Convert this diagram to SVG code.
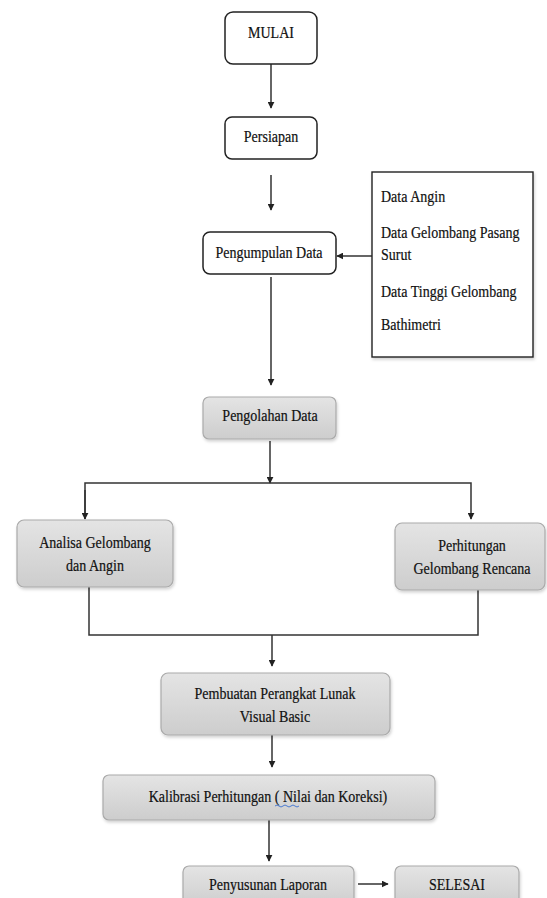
<svg xmlns="http://www.w3.org/2000/svg" width="547" height="898" viewBox="0 0 547 898" font-family="'Liberation Serif', 'Times New Roman', serif">
<style>
text{font-family:"Liberation Serif","Times New Roman",serif;font-size:16.5px;fill:#111;stroke:#111;stroke-width:0.2;text-anchor:middle;transform-box:fill-box;transform-origin:center;transform:scaleX(0.85)}
text.l{text-anchor:start;transform-origin:left center}
.w{fill:#fff;stroke:#222;stroke-width:1.5}
.g{fill:url(#gr);stroke:#aaa;stroke-width:1.2;filter:url(#sh)}
.c{fill:none;stroke:#333;stroke-width:1.5}
</style>
<defs>
<linearGradient id="gr" x1="0" y1="0" x2="0" y2="1">
<stop offset="0" stop-color="#e4e4e4"/>
<stop offset="1" stop-color="#cdcdcd"/>
</linearGradient>
<filter id="sh" x="-10%" y="-20%" width="120%" height="150%">
<feDropShadow dx="1" dy="2" stdDeviation="1.5" flood-color="#000" flood-opacity="0.18"/>
</filter>
<marker id="ah" viewBox="0 0 10 10" refX="9" refY="5" markerWidth="7" markerHeight="7" markerUnits="userSpaceOnUse" orient="auto">
<path d="M0,0 L10,5 L0,10 Z" fill="#222"/>
</marker>
</defs>
<rect width="547" height="898" fill="#fff"/>
<g id="connectors">
<path class="c" d="M271,64 V108" marker-end="url(#ah)"/>
<path class="c" d="M271,175 V210" marker-end="url(#ah)"/>
<path class="c" d="M372,256 H337" marker-end="url(#ah)"/>
<path class="c" d="M271,277 V385" marker-end="url(#ah)"/>
<path class="c" d="M270,441 V483" marker-end="url(#ah)"/>
<path class="c" d="M85,519 V483 H471 V519" marker-end="url(#ah)"/>
<path class="c" d="M85,490 V519" marker-end="url(#ah)"/>
<path class="c" d="M89,587 V635 H478 V590"/>
<path class="c" d="M272,635 V666" marker-end="url(#ah)"/>
<path class="c" d="M272,735 V767" marker-end="url(#ah)"/>
<path class="c" d="M269,820 V861" marker-end="url(#ah)"/>
<path class="c" d="M358,884 H388" marker-end="url(#ah)"/>
</g>
<g id="mulai"><rect class="w" x="225" y="12" width="92" height="52" rx="8"/><text x="271" y="38">MULAI</text></g>
<g id="persiapan"><rect class="w" x="225" y="117" width="92" height="42" rx="7"/><text x="271" y="142">Persiapan</text></g>
<g id="pengumpulan"><rect class="w" x="203" y="232" width="133" height="42" rx="7"/><text x="269" y="258">Pengumpulan Data</text></g>
<g id="data">
<rect x="372" y="172" width="161" height="185" fill="#fff" stroke="#222" stroke-width="1.4" filter="url(#sh)"/>
<text class="l" x="381" y="202">Data Angin</text>
<text class="l" x="381" y="238">Data Gelombang Pasang</text>
<text class="l" x="381" y="260">Surut</text>
<text class="l" x="381" y="297">Data Tinggi Gelombang</text>
<text class="l" x="381" y="330">Bathimetri</text>
</g>
<g id="pengolahan"><rect class="g" x="203" y="397" width="133" height="42" rx="6"/><text x="270" y="421">Pengolahan Data</text></g>
<g id="analisa"><rect class="g" x="17" y="520" width="156" height="67" rx="7"/><text x="95" y="548">Analisa Gelombang</text><text x="95" y="571">dan Angin</text></g>
<g id="perhitungan"><rect class="g" x="395" y="523" width="150" height="67" rx="7"/><text x="472" y="551">Perhitungan</text><text x="472" y="574">Gelombang Rencana</text></g>
<g id="pembuatan"><rect class="g" x="161" y="673" width="229" height="62" rx="7"/><text x="275" y="699">Pembuatan Perangkat Lunak</text><text x="275" y="722">Visual Basic</text></g>
<g id="kalibrasi"><rect class="g" x="103" y="775" width="332" height="45" rx="6"/><text x="268" y="802">Kalibrasi Perhitungan ( Nilai dan Koreksi)</text>
<path d="M275,806 q2,-2 4,0 t4,0 t4,0 t4,0 t4,0 t4,0" fill="none" stroke="#3a6fd0" stroke-width="0.9"/></g>
<g id="penyusunan"><rect class="g" x="183" y="866" width="171" height="42" rx="6"/><text x="268" y="890">Penyusunan Laporan</text></g>
<g id="selesai"><rect class="g" x="395" y="866" width="124" height="42" rx="6"/><text x="457" y="890">SELESAI</text></g>
</svg>
